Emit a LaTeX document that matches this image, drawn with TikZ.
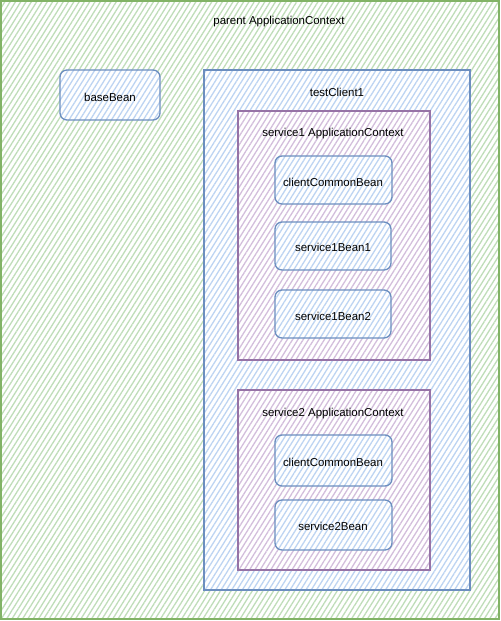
\documentclass[tikz,border=0pt]{standalone}
\usepackage{fontspec}
\setmainfont{Liberation Sans}
\usetikzlibrary{patterns.meta}
\definecolor{gstroke}{HTML}{82B366}
\definecolor{ghatch}{HTML}{BFDDB9}
\definecolor{bstroke}{HTML}{6C8EBF}
\definecolor{bhatch}{HTML}{BDD4F2}
\definecolor{pstroke}{HTML}{9673A6}
\definecolor{phatch}{HTML}{D3BEDC}
\tikzset{
  x=1bp, y=-1bp,
  hatch/.style={preaction={fill=white}, pattern={Lines[angle=58,distance=4.5bp,line width=1.3bp]}, pattern color=#1},
  outerbox/.style={draw=gstroke, line width=1.4bp, hatch=ghatch},
  clientbox/.style={draw=bstroke, line width=1.3bp, hatch=bhatch},
  ctxbox/.style={draw=pstroke, line width=1.5bp, hatch=phatch},
  beanbox/.style={draw=bstroke, line width=1.3bp, rounded corners=7bp, hatch=bhatch},
  lbl/.style={font=\fontsize{11.5}{13}\selectfont, text=black, inner sep=0pt}
}
\begin{document}
\begin{tikzpicture}
\useasboundingbox (0,0) rectangle (501,621);
\draw[outerbox] (1,1) rectangle (499,619);
\node[lbl] (parentlbl) at (279,22) {parent ApplicationContext};
\draw[beanbox] (60,70) rectangle (160,120);
\node[lbl] (basebean) at (110,97) {baseBean};
\draw[clientbox] (204,70) rectangle (470,590);
\node[lbl] (tclbl) at (337,92) {testClient1};
\draw[ctxbox] (238,111) rectangle (430,360);
\node[lbl] (s1lbl) at (333,134) {service1 ApplicationContext};
\draw[beanbox] (275,156) rectangle (392,204);
\node[lbl] (ccb1) at (333,182) {clientCommonBean};
\draw[beanbox] (275,222) rectangle (391,270);
\node[lbl] (s1b1) at (333,247) {service1Bean1};
\draw[beanbox] (275,290) rectangle (391,338);
\node[lbl] (s1b2) at (333,316) {service1Bean2};
\draw[ctxbox] (238,390) rectangle (430,570);
\node[lbl] (s2lbl) at (333,414) {service2 ApplicationContext};
\draw[beanbox] (275,435) rectangle (392,486);
\node[lbl] (ccb2) at (333,462) {clientCommonBean};
\draw[beanbox] (275,500) rectangle (392,550);
\node[lbl] (s2b) at (333,526) {service2Bean};
\end{tikzpicture}
\end{document}
